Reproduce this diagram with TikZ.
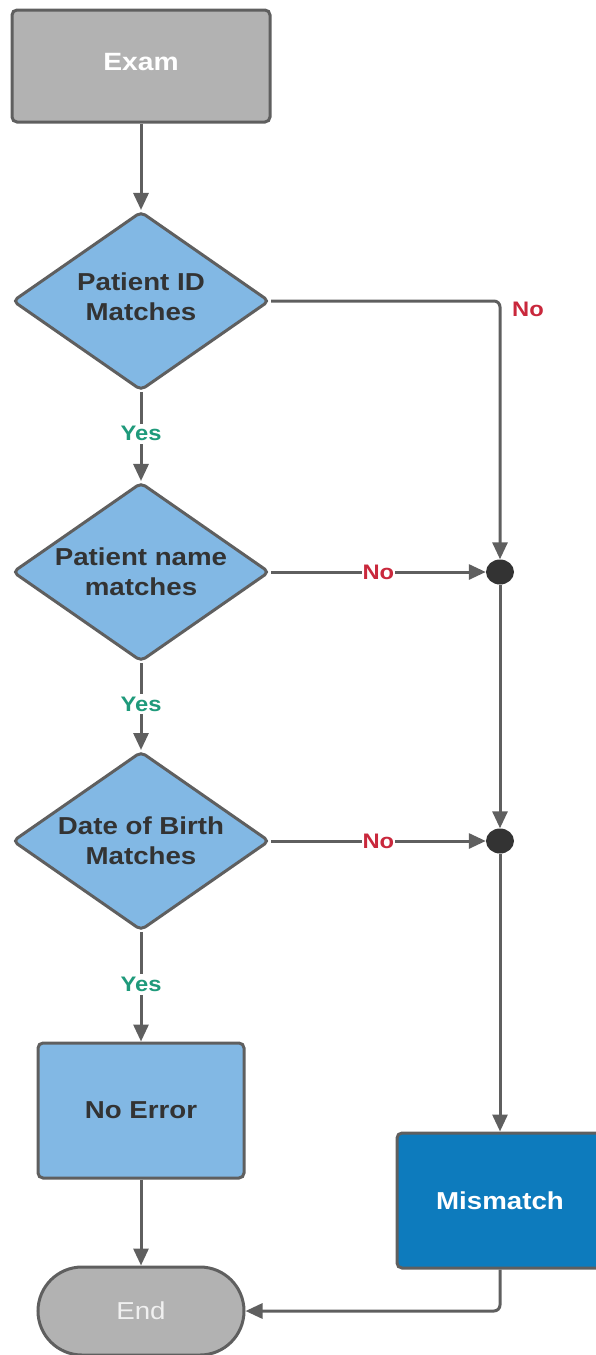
\documentclass[tikz,border=0pt]{standalone}
\usepackage{fontspec}
\setmainfont{Liberation Sans}[FakeStretch=1.13]
\usetikzlibrary{shapes.geometric,arrows.meta}

\definecolor{edgegray}{HTML}{5F5F5F}
\definecolor{boxgray}{HTML}{B2B2B2}
\definecolor{lightblue}{HTML}{82B8E4}
\definecolor{darkblue}{HTML}{0D7BBD}
\definecolor{inkdark}{HTML}{333333}
\definecolor{yesgreen}{HTML}{1F9A7B}
\definecolor{nored}{HTML}{C9283C}

\tikzset{
  x=1pt, y=-1pt,
  shapeline/.style={draw=edgegray, line width=3pt},
  procbox/.style={shapeline, rectangle, rounded corners=5pt, minimum width=206pt,
    minimum height=135pt, inner sep=0pt, font=\bfseries\fontsize{24.5}{30}\selectfont},
  startbox/.style={procbox, fill=boxgray, minimum width=258pt, minimum height=112pt, text=white},
  decision/.style={shapeline, diamond, rounded corners=5pt, fill=lightblue,
    minimum width=257pt, minimum height=179pt, inner sep=0pt},
  decisiontext/.style={text=inkdark, align=center, inner sep=0pt,
    font=\bfseries\fontsize{24.5}{30}\selectfont},
  terminal/.style={shapeline, rectangle, rounded corners=44pt, fill=boxgray, text=white!94!black,
    minimum width=206pt, minimum height=88pt, inner sep=0pt, font=\fontsize{24.5}{30}\selectfont},
  junction/.style={ellipse, fill=inkdark, draw=none, minimum width=28pt, minimum height=25pt, inner sep=0pt},
  flow/.style={draw=edgegray, line width=3pt, -{Triangle[length=17pt,width=15pt]}},
  yeslabel/.style={fill=white, text=yesgreen, inner sep=3pt, font=\bfseries\fontsize{21}{22}\selectfont},
  nolabel/.style={fill=white, text=nored, inner xsep=1pt, inner ysep=2pt, font=\bfseries\fontsize{21}{22}\selectfont},
}

\begin{document}
\begin{tikzpicture}
\useasboundingbox (0,0) rectangle (595,1355);

% process shapes
\node[startbox] (exam) at (141,66) {};
\node[text=white, font=\bfseries\fontsize{25}{30}\selectfont] (examtext) at (141,62) {Exam};

% decision shapes, captions set on top
\node[decision] (idm) at (141,301) {};
\node[decisiontext] (idmtext) at (141,297) {Patient ID\\Matches};
\node[decision] (namem) at (141,572) {};
\node[decisiontext] (namemtext) at (141,572) {Patient name\\matches};
\node[decision] (dobm) at (141,841) {};
\node[decisiontext] (dobmtext) at (141,841) {Date of Birth\\Matches};

\node[procbox, fill=lightblue, text=inkdark] (noerr) at (141,1110.5) {No Error};
\node[procbox, fill=darkblue, text=white] (mism) at (500,1200.5) {Mismatch};
\node[terminal] (end) at (141,1311) {End};

% merge points
\node[junction] (j1) at (500,572) {};
\node[junction] (j2) at (500,841) {};

% main flow
\draw[flow] (exam) -- (idm);
\draw[flow] (idm) -- node[yeslabel, pos=0.47] {Yes} (namem);
\draw[flow] (namem) -- node[yeslabel, pos=0.47] {Yes} (dobm);
\draw[flow] (dobm) -- node[yeslabel, pos=0.48] {Yes} (noerr);
\draw[flow] (noerr) -- (end);

% mismatch branches
\draw[flow, rounded corners=6pt] (idm.east) -| (j1);
\node[text=nored, font=\bfseries\fontsize{21}{22}\selectfont] (no1) at (528,309) {No};
\draw[flow] (namem.east) -- node[nolabel] {No} (j1);
\draw[flow] (dobm.east) -- node[nolabel] {No} (j2);
\draw[flow] (j1) -- (j2);
\draw[flow] (j2) -- (mism);
\draw[flow, rounded corners=6pt] (mism.south) |- (end.east);
\end{tikzpicture}
\end{document}
